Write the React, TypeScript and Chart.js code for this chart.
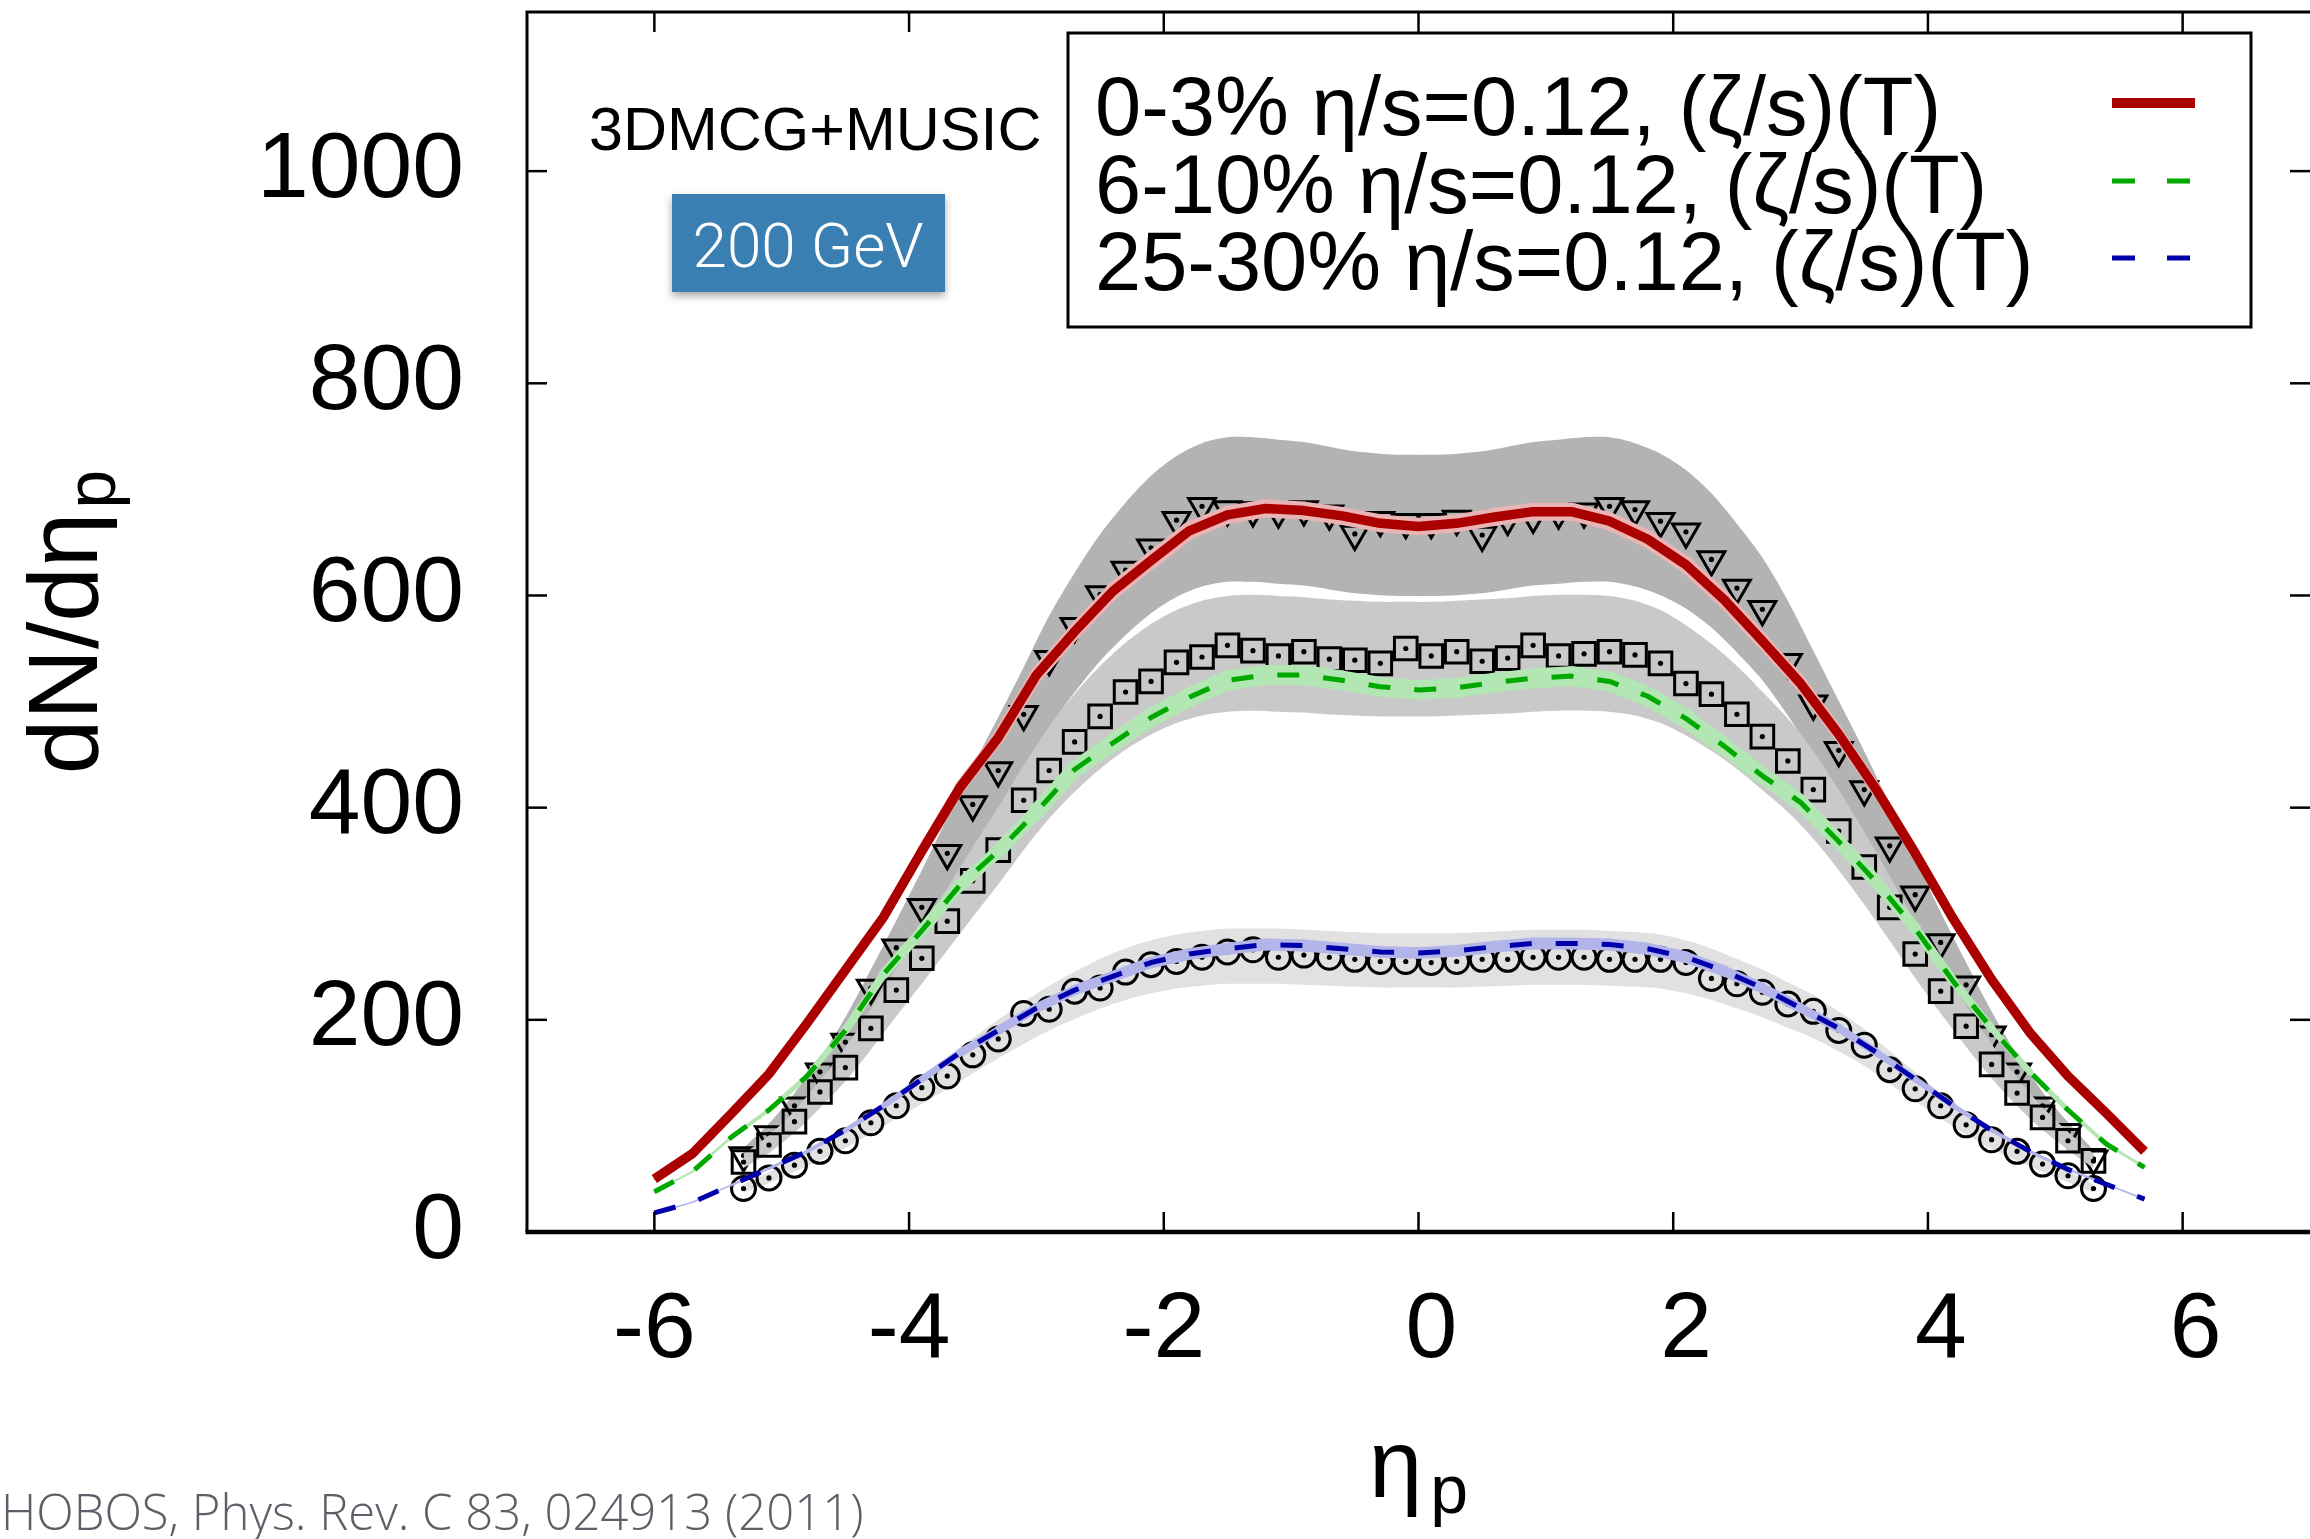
import React, { useEffect, useRef } from "react";
import { Chart, registerables } from "chart.js";

Chart.register(...registerables);

// ---------------- data ----------------
const DATA_ETA = [
  -5.3, -5.1, -4.9, -4.7, -4.5, -4.3, -4.1, -3.9, -3.7, -3.5, -3.3, -3.1, -2.9, -2.7,
  -2.5, -2.3, -2.1, -1.9, -1.7, -1.5, -1.3, -1.1, -0.9, -0.7, -0.5, -0.3, -0.1,
  0.1, 0.3, 0.5, 0.7, 0.9, 1.1, 1.3, 1.5, 1.7, 1.9, 2.1, 2.3, 2.5, 2.7,
  2.9, 3.1, 3.3, 3.5, 3.7, 3.9, 4.1, 4.3, 4.5, 4.7, 4.9, 5.1, 5.3,
];

// PHOBOS data points
const PHOBOS_0_3 = [
  72, 92, 119, 151, 179, 230, 268, 306, 357, 403, 435, 488, 540, 571,
  601, 624, 645, 671, 684, 681, 680, 679, 681, 677, 658, 671, 669,
  669, 672, 657, 672, 674, 678, 679, 684, 681, 670, 660, 634, 607, 587,
  537, 498, 454, 417, 364, 318, 273, 233, 186, 151, 119, 94, 69,
];
const PHOBOS_6_10 = [
  66, 82, 104, 132, 155, 192, 228, 258, 293, 331, 360, 407, 435, 462,
  486, 509, 519, 537, 542, 553, 548, 543, 547, 540, 539, 536, 550,
  543, 547, 538, 541, 553, 543, 545, 547, 544, 536, 517, 507, 488, 467,
  444, 417, 378, 344, 306, 262, 227, 194, 158, 131, 108, 86, 67,
];
const PHOBOS_25_30 = [
  41, 51, 63, 76, 86, 103, 119, 136, 147, 167, 182, 206, 210, 227,
  230, 245, 252, 255, 259, 264, 266, 259, 261, 259, 257, 255, 255,
  254, 255, 257, 257, 259, 259, 259, 257, 257, 257, 254, 239, 234, 226,
  215, 208, 190, 176, 153, 135, 119, 101, 87, 76, 64, 53, 41,
];

// centre lines of the grey systematic-error bands
const SYS_BAND_0_3 = [
  72, 93, 119, 149, 184, 225, 267, 310, 355, 399, 441, 484, 528, 565,
  598, 625, 648, 665, 676, 681, 681, 679, 677, 673, 669, 667, 666,
  666, 667, 669, 673, 677, 679, 681, 681, 676, 667, 653, 633, 607, 578,
  541, 498, 455, 412, 366, 320, 274, 231, 189, 152, 120, 94, 70,
];
const SYS_BAND_6_10 = [
  67, 83, 104, 130, 158, 191, 226, 260, 295, 330, 364, 400, 433, 461,
  485, 505, 521, 533, 541, 545, 546, 545, 544, 542, 541, 540, 540,
  540, 541, 542, 543, 545, 546, 546, 545, 541, 533, 520, 504, 485, 463,
  440, 412, 379, 343, 305, 266, 229, 194, 161, 132, 107, 86, 67,
];
const SYS_BAND_25_30 = [
  41, 51, 63, 75, 88, 103, 119, 134, 150, 166, 182, 197, 211, 223,
  234, 243, 250, 255, 258, 260, 260, 260, 259, 258, 257, 256, 256,
  256, 256, 257, 258, 259, 259, 259, 258, 257, 255, 250, 243, 234, 225,
  214, 203, 189, 174, 155, 137, 119, 102, 87, 75, 63, 52, 41,
];
// relative half-width of the systematic bands
const SYS_ERR = 0.1;

// 3DMCG+MUSIC model curves
const MODEL_ETA = [
  -6.0, -5.7, -5.4, -5.1, -4.8, -4.5, -4.2, -3.9, -3.6, -3.3, -3.0, -2.7, -2.4, -2.1,
  -1.8, -1.5, -1.2, -0.9, -0.6, -0.3, 0, 0.3, 0.6, 0.9, 1.2, 1.5, 1.8, 2.1, 2.4, 2.7,
  3.0, 3.3, 3.6, 3.9, 4.2, 4.5, 4.8, 5.1, 5.4, 5.7,
];
const MUSIC_0_3 = [
  50, 74, 111, 149, 197, 247, 297, 359, 419, 466, 525, 566, 604, 633,
  661, 676, 682, 680, 675, 668, 665, 668, 674, 679, 679, 670, 653, 629, 596, 557,
  517, 469, 416, 357, 295, 238, 188, 147, 112, 76,
];
const MUSIC_6_10 = [
  38, 57, 89, 115, 147, 190, 243, 284, 327, 359, 396, 436, 461, 485,
  504, 520, 525, 525, 520, 514, 511, 513, 518, 522, 524, 519, 505, 484, 458, 430,
  405, 368, 329, 286, 236, 192, 151, 115, 83, 61,
];
const MUSIC_25_30 = [
  18, 28, 44, 60, 76, 96, 119, 144, 169, 190, 211, 228, 241, 254,
  262, 267, 271, 270, 267, 264, 263, 265, 269, 272, 272, 271, 267, 259, 246, 230,
  211, 192, 169, 144, 119, 96, 76, 59, 45, 31,
];

const LEGEND_LABELS = [
  "0-3% η/s=0.12, (ζ/s)(T)",
  "6-10% η/s=0.12, (ζ/s)(T)",
  "25-30% η/s=0.12, (ζ/s)(T)",
];
const X_TICKS = [-6, -4, -2, 0, 2, 4, 6];
const Y_TICKS = [0, 200, 400, 600, 800, 1000];
const X_RANGE = [-7, 7];
const Y_RANGE = [0, 1150];

// ---------------- styles ----------------
const FONT = '"Liberation Sans", Arial, Helvetica, sans-serif';
const RED = "#aa0000";
const PINK = "#ebb4b4";
const GREEN = "#00a800";
const LIGHT_GREEN = "#b2e6b2";
const BLUE = "#0000aa";
const LAVENDER = "#b2b4ea";
const BAND_DARK = "#b3b3b3";
const BAND_MID = "#c9c9c9";
const BAND_LIGHT = "#e1e1e1";

const pts = (xs: number[], ys: number[]) => xs.map((x, i) => ({ x, y: ys[i] }));
const scaleArr = (ys: number[], f: number) => ys.map((v) => v * f);

function bandPair(centre: number[], color: string) {
  const upper = {
    data: pts(DATA_ETA, scaleArr(centre, 1 + SYS_ERR)),
    borderColor: "rgba(0,0,0,0)",
    borderWidth: 0,
    backgroundColor: color,
    pointRadius: 0,
    fill: "+1",
    tension: 0.3,
  };
  const lower = {
    data: pts(DATA_ETA, scaleArr(centre, 1 - SYS_ERR)),
    borderColor: "rgba(0,0,0,0)",
    borderWidth: 0,
    pointRadius: 0,
    fill: false,
    tension: 0.3,
  };
  return [upper, lower];
}

function markers(values: number[], style: string, radius: number, rotation = 0) {
  return [
    {
      data: pts(DATA_ETA, values),
      showLine: false,
      fill: false,
      pointStyle: style,
      pointRadius: radius,
      pointRotation: rotation,
      pointBorderWidth: 3,
      pointBorderColor: "#000",
      pointBackgroundColor: "rgba(0,0,0,0)",
    },
    {
      data: pts(DATA_ETA, values),
      showLine: false,
      fill: false,
      pointStyle: "circle",
      pointRadius: 2.6,
      pointBorderWidth: 0,
      pointBackgroundColor: "#000",
    },
  ];
}

function model(values: number[], color: string, under: string, width: number, dash: number[], k: number, minW: number) {
  const underlay = {
    data: pts(MODEL_ETA, values),
    borderColor: under,
    borderWidth: minW,
    borderCapStyle: "round",
    borderJoinStyle: "round",
    pointRadius: 0,
    fill: false,
    segment: {
      borderWidth: (c: any) => Math.max(minW, (k * (c.p0.parsed.y + c.p1.parsed.y)) / 2),
    },
  };
  const line = {
    data: pts(MODEL_ETA, values),
    borderColor: color,
    borderWidth: width,
    borderDash: dash,
    borderJoinStyle: "round",
    pointRadius: 0,
    fill: false,
  };
  return [underlay, line];
}

function buildDatasets() {
  // listed bottom -> top
  const list: any[] = [
    ...bandPair(SYS_BAND_0_3, BAND_DARK),
    ...markers(PHOBOS_0_3, "triangle", 15.5, 180),
    ...bandPair(SYS_BAND_6_10, BAND_MID),
    ...markers(PHOBOS_6_10, "rect", 16),
    ...bandPair(SYS_BAND_25_30, BAND_LIGHT),
    ...markers(PHOBOS_25_30, "circle", 12),
    ...model(MUSIC_25_30, BLUE, LAVENDER, 5, [22, 24], 12 / 270, 1.5),
    ...model(MUSIC_6_10, GREEN, LIGHT_GREEN, 5, [22, 24], 20 / 525, 2),
    ...model(MUSIC_0_3, RED, PINK, 9.5, [], 18 / 680, 2),
  ];
  const n = list.length;
  return list.map((d, i) => ({ ...d, order: n - i }));
}

// ---------------- overlay (frame, mirrored ticks, legend, labels) ----------------
const overlayPlugin = {
  id: "overlay",
  afterDraw(chart: any) {
    const { ctx, chartArea: a, scales } = chart;
    const xs = scales.x;
    const ys = scales.y;
    const line = (x1: number, y1: number, x2: number, y2: number) => {
      ctx.beginPath();
      ctx.moveTo(x1, y1);
      ctx.lineTo(x2, y2);
      ctx.stroke();
    };
    ctx.save();
    ctx.strokeStyle = "#000";
    ctx.lineCap = "butt";

    // frame
    ctx.lineWidth = 3;
    ctx.beginPath();
    ctx.moveTo(a.left, a.bottom);
    ctx.lineTo(a.left, a.top);
    ctx.lineTo(a.right, a.top);
    ctx.stroke();
    ctx.lineWidth = 4.5;
    line(a.left - 1.5, a.bottom, a.right, a.bottom);

    // inward ticks on all four sides
    ctx.lineWidth = 2.5;
    const TL = 20;
    for (const v of X_TICKS) {
      const px = xs.getPixelForValue(v);
      line(px, a.bottom, px, a.bottom - TL);
      line(px, a.top, px, a.top + TL);
    }
    for (const v of Y_TICKS) {
      const py = ys.getPixelForValue(v);
      line(a.left, py, a.left + TL, py);
      line(a.right, py, a.right - TL, py);
    }

    // legend box
    const lx = 1068, ly = 33, lw = 1183, lh = 294;
    ctx.fillStyle = "#fff";
    ctx.fillRect(lx, ly, lw, lh);
    ctx.lineWidth = 3;
    ctx.strokeRect(lx, ly, lw, lh);
    ctx.fillStyle = "#000";
    ctx.font = `83px ${FONT}`;
    ctx.textAlign = "left";
    ctx.textBaseline = "alphabetic";
    const baselines = [135, 213, 290];
    const sampleY = [103, 181, 258];
    const sampleColors = [RED, GREEN, BLUE];
    const sampleWidths = [10, 5, 5];
    const sampleDash = [[], [23, 32], [23, 32]];
    LEGEND_LABELS.forEach((t, i) => {
      ctx.fillText(t, 1095, baselines[i]);
      ctx.save();
      ctx.strokeStyle = sampleColors[i];
      ctx.lineWidth = sampleWidths[i];
      ctx.setLineDash(sampleDash[i]);
      line(2112, sampleY[i], 2195, sampleY[i]);
      ctx.restore();
    });

    // model label
    ctx.font = `61px ${FONT}`;
    ctx.fillText("3DMCG+MUSIC", 589, 150);

    // energy badge
    ctx.save();
    ctx.shadowColor = "rgba(0,0,0,0.35)";
    ctx.shadowBlur = 8;
    ctx.shadowOffsetY = 4;
    ctx.fillStyle = "#3a7fb2";
    ctx.fillRect(672, 194, 273, 98);
    ctx.restore();
    ctx.fillStyle = "#fff";
    ctx.font = `300 62px Roboto, ${FONT}`;
    ctx.textAlign = "center";
    ctx.fillText("200 GeV", 808, 267);

    // citation
    ctx.fillStyle = "#5b6068";
    ctx.textAlign = "left";
    const cite = "HOBOS, Phys. Rev. C 83, 024913 (2011)";
    ctx.font = `300 44px "Open Sans", Lato, ${FONT}`;
    const cw = ctx.measureText(cite).width;
    const cs = Math.max(36, Math.min(52, (44 * 862) / cw));
    ctx.font = `300 ${cs.toFixed(1)}px "Open Sans", Lato, ${FONT}`;
    ctx.fillText(cite, 1, 1530);

    // x-axis title  η_p
    ctx.fillStyle = "#000";
    ctx.font = `96px ${FONT}`;
    const etaW = ctx.measureText("η").width;
    ctx.font = `68px ${FONT}`;
    const pW = ctx.measureText("p").width;
    const cx = (a.left + a.right) / 2;
    const x0 = cx - (etaW + 8 + pW) / 2;
    ctx.font = `96px ${FONT}`;
    ctx.fillText("η", x0, 1497);
    ctx.font = `68px ${FONT}`;
    ctx.fillText("p", x0 + etaW + 8, 1513);

    // y-axis title  dN/dη_p
    ctx.save();
    ctx.font = `98px ${FONT}`;
    const mainW = ctx.measureText("dN/dη").width;
    ctx.font = `70px ${FONT}`;
    const subW = ctx.measureText("p").width;
    const cy = (a.top + a.bottom) / 2;
    const total = mainW + 4 + subW;
    ctx.translate(97, cy + total / 2);
    ctx.rotate(-Math.PI / 2);
    ctx.font = `98px ${FONT}`;
    ctx.fillText("dN/dη", 0, 0);
    ctx.font = `70px ${FONT}`;
    ctx.fillText("p", mainW + 4, 18);
    ctx.restore();

    ctx.restore();
  },
};

export default function App() {
  const ref = useRef<HTMLCanvasElement>(null);
  useEffect(() => {
    const canvas = ref.current;
    if (!canvas) return;
    const chart = new Chart(canvas, {
      type: "line",
      data: { datasets: buildDatasets() as any },
      options: {
        animation: false,
        responsive: false,
        devicePixelRatio: 1,
        events: [],
        layout: { autoPadding: false, padding: { left: 0, right: 0, top: 12, bottom: 0 } },
        plugins: {
          legend: { display: false },
          tooltip: { enabled: false },
          title: { display: false },
        },
        scales: {
          x: {
            type: "linear",
            min: X_RANGE[0],
            max: X_RANGE[1],
            afterBuildTicks: (s: any) => {
              s.ticks = X_TICKS.map((v) => ({ value: v }));
            },
            afterFit: (s: any) => {
              s.height = 307;
              s.paddingLeft = 0;
              s.paddingRight = 0;
              s.paddingTop = 0;
              s.paddingBottom = 0;
            },
            grid: { display: false, drawTicks: false },
            border: { display: false },
            ticks: {
              autoSkip: false,
              maxRotation: 0,
              padding: 44,
              color: "#000",
              font: { family: FONT, size: 93 },
              // gnuplot "% g" style: positive numbers carry a leading space
              callback: (v: any) => (Number(v) >= 0 ? " " + String(v) : String(v)),
            },
          },
          y: {
            type: "linear",
            min: Y_RANGE[0],
            max: Y_RANGE[1],
            afterBuildTicks: (s: any) => {
              s.ticks = Y_TICKS.map((v) => ({ value: v }));
            },
            afterFit: (s: any) => {
              s.width = 527;
              s.paddingLeft = 0;
              s.paddingRight = 0;
              s.paddingTop = 0;
              s.paddingBottom = 0;
            },
            grid: { display: false, drawTicks: false },
            border: { display: false },
            ticks: {
              autoSkip: false,
              padding: 63,
              color: "#000",
              font: { family: FONT, size: 93 },
              callback: (v: any) => String(v),
            },
          },
        },
      } as any,
      plugins: [overlayPlugin],
    });
    return () => chart.destroy();
  }, []);
  return (
    <div style={{ position: "absolute", left: 0, top: 0, width: 2310, height: 1539, background: "#fff" }}>
      <canvas ref={ref} width={2310} height={1539} style={{ display: "block", width: 2310, height: 1539 }} />
    </div>
  );
}
